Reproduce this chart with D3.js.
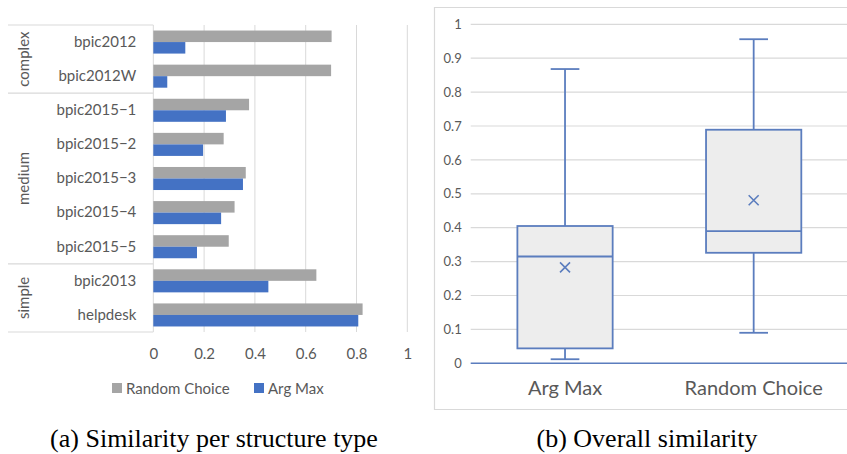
<!DOCTYPE html>
<html>
<head>
<meta charset="utf-8">
<script src="https://cdn.jsdelivr.net/npm/d3@7"></script>
<style>
  html, body { margin: 0; padding: 0; background: #fff; }
  svg { display: block; }
  text { font-family: Lato, "Open Sans", sans-serif; }
</style>
</head>
<body>
<svg id="chart" width="847" height="454"></svg>
<script>
// ---- Data (left chart) ----
const categories = ["bpic2012", "bpic2012W", "bpic2015\u22121", "bpic2015\u22122", "bpic2015\u22123", "bpic2015\u22124", "bpic2015\u22125", "bpic2013", "helpdesk"];
const groups = ["complex", "medium", "simple"];
const groupOf = ["complex", "complex", "medium", "medium", "medium", "medium", "medium", "simple", "simple"];
const seriesNames = ["Random Choice", "Arg Max"];
const randomChoice = [0.702, 0.700, 0.377, 0.277, 0.364, 0.320, 0.297, 0.642, 0.824];
const argMax = [0.126, 0.055, 0.286, 0.196, 0.353, 0.267, 0.172, 0.453, 0.807];
const xTicks = [0, 0.2, 0.4, 0.6, 0.8, 1];

// ---- Data (right chart) ----
const boxNames = ["Arg Max", "Random Choice"];
const boxMin = [0.012, 0.090];
const boxQ1 = [0.044, 0.326];
const boxMedian = [0.315, 0.390];
const boxQ3 = [0.405, 0.689];
const boxMax = [0.868, 0.956];
const boxMean = [0.283, 0.481];
const yTicks = [0, 0.1, 0.2, 0.3, 0.4, 0.5, 0.6, 0.7, 0.8, 0.9, 1];

const textColor = "#595959";
const gridColor = "#D9D9D9";
const grayBar = "#A5A5A5";
const blueBar = "#4472C4";
const boxStroke = "#5B7DBE";

const svg = d3.select("#chart");

// ================= Left chart =================
const L = { left: 153.3, right: 407.3, top: 25, bottom: 332 };
const x = d3.scaleLinear().domain([0, 1]).range([L.left, L.right]);
const y = d3.scaleBand().domain(categories).range([L.top, L.bottom]).padding(0);
const ySub = d3.scaleBand().domain(seriesNames).range([0, y.bandwidth()]).paddingInner(0).paddingOuter(0.48);

const left = svg.append("g");

// gridlines
left.append("g").selectAll("line").data(xTicks).join("line")
  .attr("x1", d => x(d)).attr("x2", d => x(d))
  .attr("y1", L.top).attr("y2", L.bottom)
  .attr("stroke", gridColor).attr("stroke-width", 1);

// x axis labels via d3 axis
const xAxis = left.append("g").attr("transform", `translate(0,${L.bottom})`)
  .call(d3.axisBottom(x).tickValues(xTicks).tickSize(0).tickPadding(16).tickFormat(d => d3.format("")(d)));
xAxis.select(".domain").remove();
xAxis.selectAll("text").attr("fill", textColor).style("font-size", "15px").style("font-family", "Lato, sans-serif");

// bars
const rows = categories.map((c, i) => ({ c, vals: [randomChoice[i], argMax[i]] }));
const rowG = left.append("g").selectAll("g").data(rows).join("g")
  .attr("transform", d => `translate(0,${y(d.c)})`);
rowG.selectAll("rect").data(d => d.vals.map((v, k) => ({ v, s: seriesNames[k] }))).join("rect")
  .attr("x", x(0))
  .attr("y", d => ySub(d.s))
  .attr("width", d => x(d.v) - x(0))
  .attr("height", ySub.bandwidth())
  .attr("fill", d => d.s === "Random Choice" ? grayBar : blueBar);

// category labels
const yAxis = left.append("g").attr("transform", `translate(${L.left},0)`)
  .call(d3.axisLeft(y).tickSize(0).tickPadding(17));
yAxis.select(".domain").remove();
yAxis.selectAll("text").attr("fill", textColor).style("font-size", "15px").style("font-family", "Lato, sans-serif");

// group separators and labels
const groupInfo = groups.map(g => {
  const idx = groupOf.map((v, i) => v === g ? i : -1).filter(i => i >= 0);
  return { g, y0: y(categories[idx[0]]), y1: y(categories[idx[idx.length - 1]]) + y.bandwidth() };
});
const sepYs = [L.top].concat(groupInfo.map(d => d.y1));
left.append("g").selectAll("line").data(sepYs).join("line")
  .attr("x1", 8).attr("x2", L.left)
  .attr("y1", d => d).attr("y2", d => d)
  .attr("stroke", gridColor).attr("stroke-width", 1.2);
left.append("g").selectAll("text").data(groupInfo).join("text")
  .attr("transform", d => `translate(22.5,${(d.y0 + d.y1) / 2}) rotate(-90)`)
  .attr("text-anchor", "middle").attr("dominant-baseline", "central")
  .attr("fill", textColor).style("font-size", "15px")
  .text(d => d.g);

// legend
const legendItems = [
  { name: "Random Choice", color: grayBar, x: 112 },
  { name: "Arg Max", color: blueBar, x: 254 }
];
const lg = left.append("g").selectAll("g").data(legendItems).join("g")
  .attr("transform", d => `translate(${d.x},383)`);
lg.append("rect").attr("width", 10).attr("height", 10).attr("fill", d => d.color);
lg.append("text").attr("x", 14).attr("y", 5).attr("dominant-baseline", "central")
  .attr("fill", textColor).style("font-size", "15px").text(d => d.name);

// ================= Right chart =================
const R = { left: 470.7, right: 848, top: 24.3, bottom: 363.3 };
const yR = d3.scaleLinear().domain([0, 1]).range([R.bottom, R.top]);
const xR = d3.scaleBand().domain(boxNames).range([R.left, R.right]).padding(0);
const right = svg.append("g");

// outer border
right.append("path")
  .attr("d", `M850,7.5 H434.5 V409.5 H850`)
  .attr("fill", "none").attr("stroke", gridColor).attr("stroke-width", 1.2);

// gridlines
right.append("g").selectAll("line").data(yTicks.filter(t => t > 0)).join("line")
  .attr("x1", R.left).attr("x2", R.right)
  .attr("y1", d => yR(d)).attr("y2", d => yR(d))
  .attr("stroke", gridColor).attr("stroke-width", 1.2);

// y axis labels
const yAxR = right.append("g").attr("transform", `translate(${R.left},0)`)
  .call(d3.axisLeft(yR).tickValues(yTicks).tickSize(0).tickPadding(9).tickFormat(d => d3.format("")(d)));
yAxR.select(".domain").remove();
yAxR.selectAll("text").attr("fill", textColor).style("font-size", "13px").style("font-family", "Lato, sans-serif");

// boxes
const boxes = boxNames.map((n, i) => ({ n, min: boxMin[i], q1: boxQ1[i], med: boxMedian[i], q3: boxQ3[i], max: boxMax[i], mean: boxMean[i] }));
const boxW = xR.bandwidth() * 0.505;
const capW = xR.bandwidth() * 0.152;
const bg = right.append("g").selectAll("g").data(boxes).join("g")
  .attr("transform", d => `translate(${xR(d.n) + xR.bandwidth() / 2},0)`);
// whiskers
bg.append("line").attr("x1", 0).attr("x2", 0).attr("y1", d => yR(d.max)).attr("y2", d => yR(d.q3))
  .attr("stroke", boxStroke).attr("stroke-width", 1.8);
bg.append("line").attr("x1", 0).attr("x2", 0).attr("y1", d => yR(d.q1)).attr("y2", d => yR(d.min))
  .attr("stroke", boxStroke).attr("stroke-width", 1.8);
bg.append("line").attr("x1", -capW / 2).attr("x2", capW / 2).attr("y1", d => yR(d.max)).attr("y2", d => yR(d.max))
  .attr("stroke", boxStroke).attr("stroke-width", 1.8);
bg.append("line").attr("x1", -capW / 2).attr("x2", capW / 2).attr("y1", d => yR(d.min)).attr("y2", d => yR(d.min))
  .attr("stroke", boxStroke).attr("stroke-width", 1.8);
// box
bg.append("rect").attr("x", -boxW / 2).attr("width", boxW)
  .attr("y", d => yR(d.q3)).attr("height", d => yR(d.q1) - yR(d.q3))
  .attr("fill", "#EDEDED").attr("stroke", boxStroke).attr("stroke-width", 1.8);
bg.append("line").attr("x1", -boxW / 2).attr("x2", boxW / 2).attr("y1", d => yR(d.med)).attr("y2", d => yR(d.med))
  .attr("stroke", boxStroke).attr("stroke-width", 1.8);
// mean marker
const ms = 5;
bg.append("path")
  .attr("d", d => `M${-ms},${yR(d.mean) - ms} L${ms},${yR(d.mean) + ms} M${ms},${yR(d.mean) - ms} L${-ms},${yR(d.mean) + ms}`)
  .attr("stroke", boxStroke).attr("stroke-width", 1.6).attr("fill", "none");

// baseline
right.append("line").attr("x1", R.left).attr("x2", R.right).attr("y1", yR(0)).attr("y2", yR(0))
  .attr("stroke", boxStroke).attr("stroke-width", 1.5);

// x axis labels
const xAxR = right.append("g").attr("transform", `translate(0,${R.bottom})`)
  .call(d3.axisBottom(xR).tickSize(0).tickPadding(18));
xAxR.select(".domain").remove();
xAxR.selectAll("text").attr("fill", textColor).style("font-size", "20px").style("font-family", "Lato, sans-serif");

// ================= Captions =================
svg.append("text").attr("x", 214).attr("y", 447).attr("text-anchor", "middle")
  .style("font-family", "'Liberation Serif', 'Times New Roman', serif").style("font-size", "26px").attr("fill", "#000")
  .text("(a) Similarity per structure type");
svg.append("text").attr("x", 647).attr("y", 447).attr("text-anchor", "middle")
  .style("font-family", "'Liberation Serif', 'Times New Roman', serif").style("font-size", "26px").attr("fill", "#000")
  .text("(b) Overall similarity");
</script>
</body>
</html>
